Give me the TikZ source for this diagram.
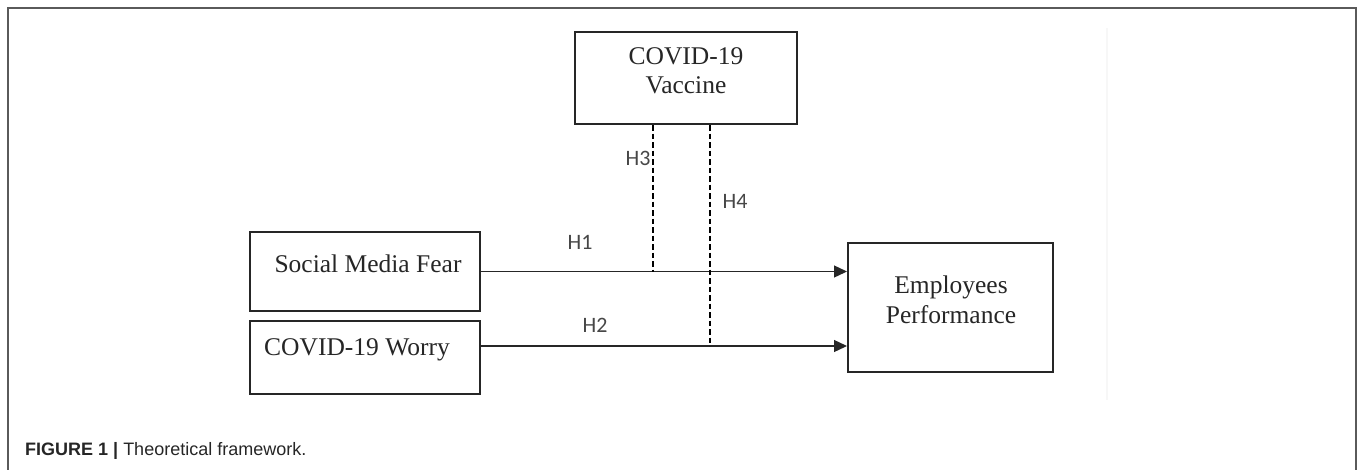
\documentclass[tikz,border=0pt]{standalone}
\usepackage{fontspec}
\setmainfont{Liberation Serif}
\newfontfamily\hfont{Carlito}
\newfontfamily\capfont{Liberation Sans}
\usetikzlibrary{arrows.meta}
\definecolor{ink}{HTML}{262626}
\definecolor{frame}{HTML}{5A5A5A}
\tikzset{
  box/.style={draw=ink, line width=2pt, rectangle, inner sep=0pt},
  boxtext/.style={anchor=base, inner sep=0pt, text=ink, font=\fontsize{25.5}{30}\selectfont},
  hlab/.style={anchor=base, inner sep=0pt, text=ink!85, font=\hfont\fontsize{22}{26}\selectfont},
  arr/.style={draw=ink, line width=1.3pt, -{Triangle[length=13pt,width=12pt]}},
  modline/.style={draw=black, line width=2pt, dash pattern=on 5.5pt off 3pt},
}
\begin{document}
\begin{tikzpicture}[x=1pt,y=-1pt]
\useasboundingbox (0,0) rectangle (1358,469);
% outer frame
\draw[frame, line width=1.5pt] (8,470) -- (8,8) -- (1356,8) -- (1356,470);
% faint vertical line
\draw[black!3, line width=1.5pt] (1107,28) -- (1107,400);
% boxes
\node[box, minimum width=222pt, minimum height=92pt] (vac) at (686,78) {};
\node[box, minimum width=230pt, minimum height=79pt] (smf) at (365,271.5) {};
\node[box, minimum width=230pt, minimum height=73pt] (wor) at (365,357.5) {};
\node[box, minimum width=205pt, minimum height=129pt] (emp) at (950.5,307.5) {};
% texts
\node[boxtext] (t1) at (686,64) {COVID-19};
\node[boxtext] (t2) at (686,93) {Vaccine};
\node[boxtext] (t3) at (368,272) {Social Media Fear};
\node[boxtext] (t4) at (357,355) {COVID-19 Worry};
\node[boxtext] (t5) at (951,293) {Employees};
\node[boxtext] (t6) at (951,323) {Performance};
% connectors
\coordinate (m3) at (653,272);
\coordinate (m4) at (710,346);
\draw[arr] (smf.east) -- (smf.east -| emp.west);
\draw[arr] (wor.east |- m4) -- (m4 -| emp.west);
\draw[modline] (vac.south -| m3) -- (m3);
\draw[modline] (vac.south -| m4) -- (m4);
% hypothesis labels
\node[hlab] (h1) at (580,249) {H1};
\node[hlab] (h2) at (595,332) {H2};
\node[hlab] (h3) at (638,165) {H3};
\node[hlab] (h4) at (735,208) {H4};
% caption
\node[anchor=base west, inner sep=0pt, text=ink, font=\capfont\fontsize{18}{21}\selectfont] (cap) at (25,455) {\textbf{FIGURE 1 |} Theoretical framework.};
\end{tikzpicture}
\end{document}
